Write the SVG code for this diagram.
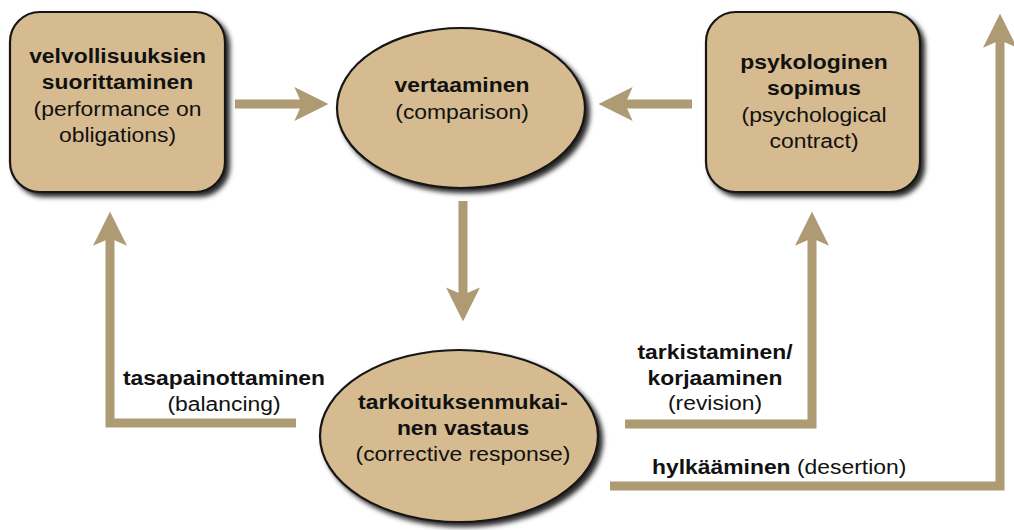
<svg xmlns="http://www.w3.org/2000/svg" width="1014" height="530" viewBox="0 0 1014 530">
<style>
.node{fill:#d5bb8f;stroke:#151515;stroke-width:2.2}
.t{font-family:"Liberation Sans",Arial,sans-serif;font-size:21px;fill:#111;text-anchor:middle}
.s{text-anchor:start}
.b{font-weight:bold}
.c{fill:none;stroke:#ae9b74;stroke-width:9;stroke-linejoin:miter;stroke-linecap:butt}
</style>
<defs>
<filter id="sh" x="-10%" y="-10%" width="125%" height="125%">
<feDropShadow dx="4" dy="4" stdDeviation="2.5" flood-color="#000" flood-opacity="0.85"/>
</filter>
<marker id="ah" markerUnits="userSpaceOnUse" markerWidth="34" markerHeight="34" viewBox="0 0 32 32" refX="10" refY="16" orient="auto">
<path d="M0,0 L32,16 L0,32 L7,16 Z" fill="#ae9b74"/>
</marker>
</defs>
<rect width="1014" height="530" fill="#fff"/>
<g id="connectors">
<path class="c" d="M235,104 H305" marker-end="url(#ah)"/>
<path class="c" d="M692,104 H622" marker-end="url(#ah)"/>
<path class="c" d="M463,201 V298" marker-end="url(#ah)"/>
<path class="c" d="M296,423 H110 V235" marker-end="url(#ah)"/>
<path class="c" d="M625,424 H812 V235" marker-end="url(#ah)"/>
<path class="c" d="M610,486 H1000 V37" marker-end="url(#ah)"/>
</g>
<g id="performance">
<rect class="node" x="10" y="12" width="215" height="180" rx="30" filter="url(#sh)"/>
<text class="t" transform="translate(117.5 0) scale(1.09 1)"><tspan class="b" x="0" y="63">velvollisuuksien</tspan><tspan class="b" x="0" y="89">suorittaminen</tspan><tspan x="0" y="116">(performance on</tspan><tspan x="0" y="142">obligations)</tspan></text>
</g>
<g id="comparison">
<ellipse class="node" cx="461" cy="108" rx="124" ry="80" filter="url(#sh)"/>
<text class="t" transform="translate(462 0) scale(1.09 1)"><tspan class="b" x="0" y="92">vertaaminen</tspan><tspan x="0" y="119">(comparison)</tspan></text>
</g>
<g id="contract">
<rect class="node" x="706" y="12" width="214" height="180" rx="30" filter="url(#sh)"/>
<text class="t" transform="translate(814 0) scale(1.09 1)"><tspan class="b" x="0" y="69">psykologinen</tspan><tspan class="b" x="0" y="95">sopimus</tspan><tspan x="0" y="122">(psychological</tspan><tspan x="0" y="148">contract)</tspan></text>
</g>
<g id="response">
<ellipse class="node" cx="459" cy="436" rx="139" ry="86" filter="url(#sh)"/>
<text class="t" transform="translate(463 0) scale(1.09 1)"><tspan class="b" x="0" y="409">tarkoituksenmukai-</tspan><tspan class="b" x="0" y="435">nen vastaus</tspan><tspan x="0" y="461">(corrective response)</tspan></text>
</g>
<g id="labels">
<text class="t" transform="translate(224 0) scale(1.09 1)"><tspan class="b" x="0" y="385">tasapainottaminen</tspan><tspan x="0" y="411">(balancing)</tspan></text>
<text class="t" transform="translate(715 0) scale(1.09 1)"><tspan class="b" x="0" y="359">tarkistaminen/</tspan><tspan class="b" x="0" y="385">korjaaminen</tspan><tspan x="0" y="410">(revision)</tspan></text>
<text class="t s" transform="translate(652 0) scale(1.09 1)" x="0" y="474"><tspan class="b">hylkääminen</tspan> (desertion)</text>
</g>
</svg>
